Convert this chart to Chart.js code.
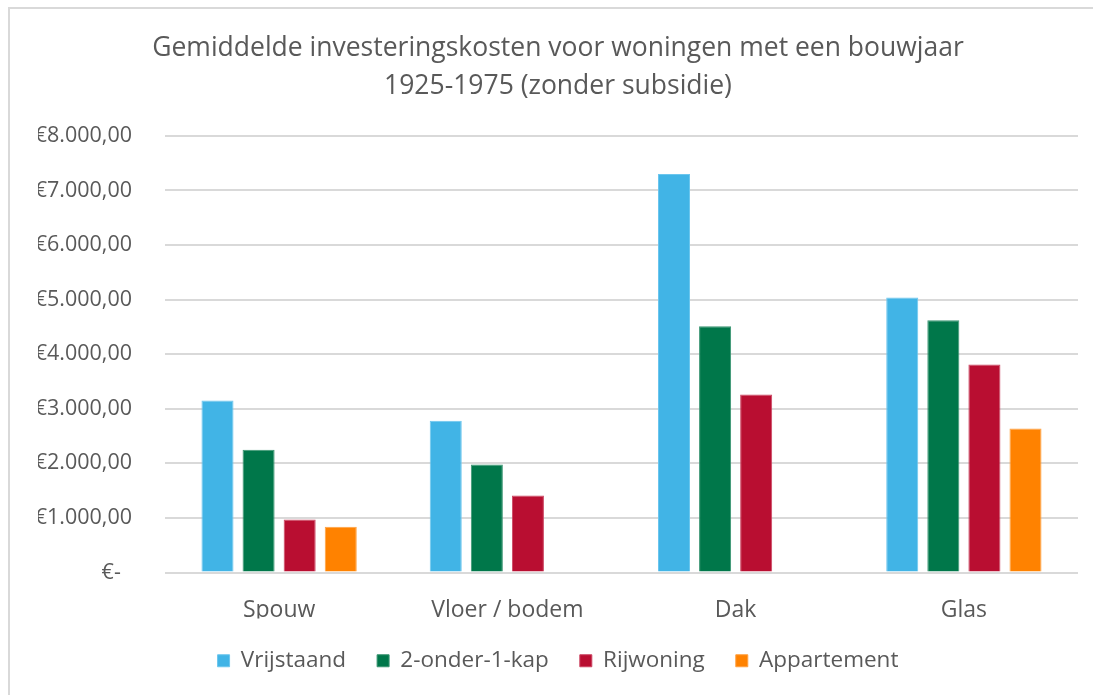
<!DOCTYPE html>
<html>
<head>
<meta charset="utf-8">
<script src="https://cdn.jsdelivr.net/npm/chart.js@4/dist/chart.umd.min.js"></script>
<style>
  html, body { margin: 0; padding: 0; background: #fff; }
  #wrap { position: relative; width: 1093px; height: 695px; overflow: hidden; }
  #frame { position: absolute; left: 8px; top: 7px; width: 1100px; height: 700px;
           border-left: 2px solid #d9d9d9; border-top: 2px solid #d9d9d9; }
  canvas { position: absolute; left: 0; top: 0; }
</style>
</head>
<body>
<div id="wrap">
  <div id="frame"></div>
  <canvas id="barChart" width="1093" height="695"></canvas>
</div>
<script>
const categorieen = ["Spouw", "Vloer / bodem", "Dak", "Glas"];

const vrijstaand = [3150, 2780, 7300, 5040];
const tweeOnderEenKap = [2250, 1980, 4510, 4620];
const rijwoning = [970, 1410, 3260, 3810];
const appartement = [840, null, null, 2640];

const yTicks = [0, 1000, 2000, 3000, 4000, 5000, 6000, 7000, 8000];

const kleuren = {
    vrijstaand: "#41b4e6",
    tweeOnderEenKap: "#00774a",
    rijwoning: "#b90e31",
    appartement: "#ff8200"
};

const randKleuren = {
    vrijstaand: "#6cc6ee",
    tweeOnderEenKap: "#3a9572",
    rijwoning: "#cc4562",
    appartement: "#ffa140"
};

const fontFamilie = "'Open Sans', 'Noto Sans', sans-serif";

function formatEuro(value){
    if(value === 0){
        return "€-  ";
    }
    const heel = Math.round(value).toString().replace(/\B(?=(\d{3})+(?!\d))/g, ".");
    return "€" + heel + ",00";
}

function maakDataset(label, data, sleutel){
    return {
        label: label,
        data: data,
        backgroundColor: kleuren[sleutel],
        borderColor: randKleuren[sleutel],
        borderWidth: 1,
        barPercentage: 0.78,
        categoryPercentage: 0.72
    };
}

const ctx = document.getElementById("barChart");

new Chart(ctx, {
    type: "bar",
    data: {
        labels: categorieen,
        datasets: [
            maakDataset("Vrijstaand", vrijstaand, "vrijstaand"),
            maakDataset("2-onder-1-kap", tweeOnderEenKap, "tweeOnderEenKap"),
            maakDataset("Rijwoning", rijwoning, "rijwoning"),
            maakDataset("Appartement", appartement, "appartement")
        ]
    },
    options: {
        responsive: false,
        animation: false,
        layout: {
            padding: { left: 38, right: 15, top: 29, bottom: 13 }
        },
        scales: {
            x: {
                afterFit: function(scale){
                    scale.height = 46;
                },
                grid: { display: false },
                border: { display: false },
                ticks: {
                    color: "#595959",
                    padding: 16,
                    font: { family: fontFamilie, size: 23 }
                }
            },
            y: {
                min: 0,
                max: 8000,
                afterFit: function(scale){
                    scale.width = 127;
                },
                afterBuildTicks: function(scale){
                    scale.ticks = yTicks.map(v => ({ value: v }));
                },
                grid: {
                    color: "#d9d9d9",
                    lineWidth: 2,
                    drawTicks: false
                },
                border: { display: false },
                ticks: {
                    color: "#595959",
                    padding: 33,
                    font: { family: fontFamilie, size: 21.5 },
                    callback: function(value){
                        return formatEuro(value);
                    }
                }
            }
        },
        plugins: {
            title: {
                display: true,
                text: ["Gemiddelde investeringskosten voor woningen met een bouwjaar", "1925-1975 (zonder subsidie)"],
                color: "#595959",
                font: { family: fontFamilie, size: 26.5, weight: "normal", lineHeight: 1.45 },
                padding: { top: 0, bottom: 30 }
            },
            legend: {
                position: "bottom",
                labels: {
                    color: "#595959",
                    font: { family: fontFamilie, size: 22.5 },
                    boxWidth: 12,
                    boxHeight: 12,
                    padding: 31
                }
            },
            tooltip: { enabled: false }
        }
    }
});
</script>
</body>
</html>
